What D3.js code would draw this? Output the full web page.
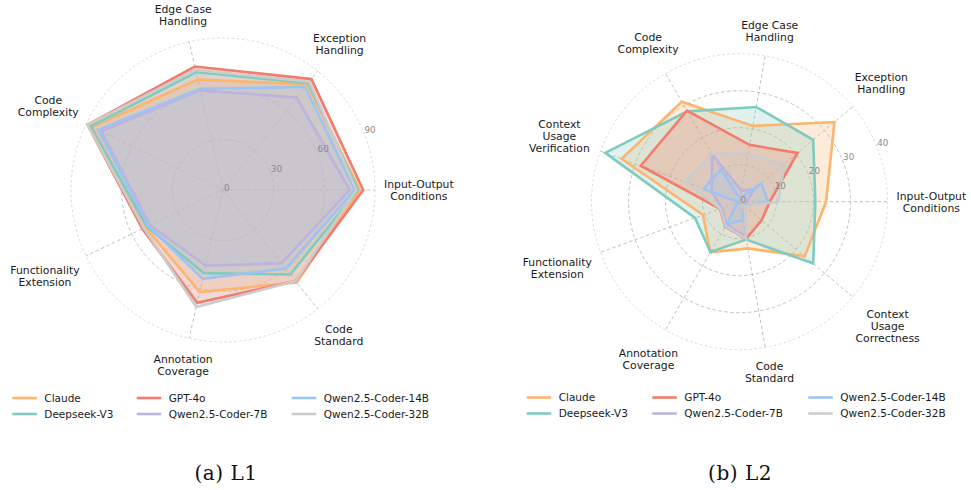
<!DOCTYPE html>
<html>
<head>
<meta charset="utf-8">
<script src="https://cdn.jsdelivr.net/npm/d3@7/dist/d3.min.js"></script>
<style>
  html, body { margin: 0; padding: 0; background: #fff; }
  svg { display: block; font-family: "DejaVu Sans", sans-serif; }
</style>
</head>
<body>
<svg id="chart" width="971" height="490"></svg>
<script>
// ---------- DATA ----------
const models = ["Claude", "Deepseek-V3", "GPT-4o", "Qwen2.5-Coder-7B", "Qwen2.5-Coder-14B", "Qwen2.5-Coder-32B"];
const modelColors = ["#fdb46d", "#80cbc0", "#f47c6c", "#bdb3de", "#9dc3f3", "#cccccc"];

const l1Categories = ["Input-Output\nConditions", "Exception\nHandling", "Edge Case\nHandling", "Code\nComplexity",
  "Functionality\nExtension", "Annotation\nCoverage", "Code\nStandard"];
const l1Ticks = [0, 30, 60, 90];
const l1Claude   = [81, 80, 67, 86, 51, 62, 70];
const l1Deepseek = [80, 81, 71.5, 87, 50, 50.5, 64];
const l1GPT4o    = [83, 84, 75, 89, 53, 68.5, 69];
const l1Qwen7B   = [75, 70, 60.5, 80, 48, 46, 55.5];
const l1Qwen14B  = [78, 78, 61.5, 82, 49, 54, 59.5];
const l1Qwen32B  = [79, 82, 73, 89, 52, 71, 69];

const l2Categories = ["Input-Output\nConditions", "Exception\nHandling", "Edge Case\nHandling", "Code\nComplexity",
  "Context\nUsage\nVerification", "Functionality\nExtension", "Annotation\nCoverage", "Code\nStandard",
  "Context\nUsage\nCorrectness"];
const l2Ticks = [0, 10, 20, 30, 40];
const l2Claude   = [23.4, 33.5, 20.8, 31.2, 33.9, 10.5, 15.8, 12.8, 23];
const l2Deepseek = [20.5, 26, 26, 28.2, 38.6, 12.8, 15.7, 10.4, 26];
const l2GPT4o    = [8.2, 20.5, 15.6, 28.4, 28.4, 5.6, 7.8, 10.2, 7.8];
const l2Qwen7B   = [2, 5.2, 3, 14.8, 8, 5, 7.2, 9.5, 2];
const l2Qwen14B  = [7.7, 7.7, 1, 10, 10.3, 0.5, 7.1, 5, 2];
const l2Qwen32B  = [10.5, 15.8, 13, 15, 15.7, 5.5, 7.6, 10.2, 2];

const captions = ["(a) L1", "(b) L2"];

// ---------- DRAW ----------
const svg = d3.select("#chart");

function drawRadar(opts) {
  const { cx, cy, R, cats, ticks, series } = opts;
  const n = cats.length;
  const maxV = ticks[ticks.length - 1];
  const r = d3.scaleLinear().domain([0, maxV]).range([0, R]);
  const ang = d3.scaleLinear().domain([0, n]).range([0, 2 * Math.PI]);
  const g = svg.append("g").attr("transform", `translate(${cx},${cy})`);
  const pt = (i, v) => [r(v) * Math.cos(ang(i)), -r(v) * Math.sin(ang(i))];

  // rings
  const grid = g.append("g");
  ticks.filter(t => t > 0 && t < maxV).forEach(t => {
    grid.append("circle").attr("r", r(t)).attr("fill", "none")
      .attr("stroke", "#b3b3b3").attr("stroke-width", 0.8).attr("stroke-dasharray", "3.5,2.5");
  });
  // outer spine
  grid.append("circle").attr("r", r(maxV)).attr("fill", "none")
    .attr("stroke", "#d0d0d0").attr("stroke-width", 0.8).attr("stroke-dasharray", "2.5,2.5");
  // spokes
  d3.range(n).forEach(i => {
    const [x, y] = pt(i, maxV);
    grid.append("line").attr("x1", 0).attr("y1", 0).attr("x2", x).attr("y2", y)
      .attr("stroke", "#b3b3b3").attr("stroke-width", 0.8).attr("stroke-dasharray", "3.5,2.5");
  });

  // series
  const line = d3.line().curve(d3.curveLinearClosed);
  series.forEach((vals, k) => {
    const pts = vals.map((v, i) => pt(i, v));
    g.append("path").attr("d", line(pts)).attr("fill", modelColors[k]).attr("fill-opacity", 0.25)
      .attr("stroke", "none");
  });
  series.forEach((vals, k) => {
    const pts = vals.map((v, i) => pt(i, v));
    g.append("path").attr("d", line(pts)).attr("fill", "none")
      .attr("stroke", modelColors[k]).attr("stroke-width", 2.6).attr("stroke-linejoin", "miter");
  });

  // tick labels at 22.5 deg
  const ta = 22.5 * Math.PI / 180;
  ticks.forEach(t => {
    g.append("text").attr("x", r(t) * Math.cos(ta) + 1).attr("y", -r(t) * Math.sin(ta) + 1)
      .attr("font-size", 8.8).attr("fill", "#8a8a8a").text(t);
  });

  // category labels
  const pad = 9, lh = 12;
  cats.forEach((c, i) => {
    const a = ang(i);
    const lines = c.split("\n");
    const t = g.append("text").attr("font-size", 10.8).attr("fill", "#1a1a1a").attr("text-anchor", "middle");
    lines.forEach((s, j) => {
      t.append("tspan").attr("x", 0).attr("y", (j - (lines.length - 1) / 2) * lh + 4).text(s);
    });
    const bb = t.node().getBBox();
    const hw = bb.width / 2, hh = lines.length * lh / 2;
    const dx = Math.cos(a), dy = -Math.sin(a);
    const d = R + pad + hw * Math.abs(dx) + hh * Math.abs(dy);
    t.attr("transform", `translate(${d * dx},${d * dy})`);
  });
}

drawRadar({ cx: 223, cy: 190, R: 152, cats: l1Categories, ticks: l1Ticks,
  series: [l1Claude, l1Deepseek, l1GPT4o, l1Qwen7B, l1Qwen14B, l1Qwen32B] });
drawRadar({ cx: 739.5, cy: 201.7, R: 148, cats: l2Categories, ticks: l2Ticks,
  series: [l2Claude, l2Deepseek, l2GPT4o, l2Qwen7B, l2Qwen14B, l2Qwen32B] });

// legends
function drawLegend(y0, colX) {
  const lg = svg.append("g");
  models.forEach((m, k) => {
    const col = Math.floor(k / 2), row = k % 2;
    const x = colX[col], y = y0 + row * 16;
    lg.append("line").attr("x1", x).attr("x2", x + 24.5).attr("y1", y).attr("y2", y)
      .attr("stroke", modelColors[k]).attr("stroke-width", 2.6);
    lg.append("text").attr("x", x + 32).attr("y", y + 3.8).attr("font-size", 10.5)
      .attr("fill", "#1a1a1a").text(m);
  });
}
drawLegend(398, [12.3, 136.7, 291.7]);
drawLegend(397.5, [526.7, 652.3, 808.3]);

// captions
svg.append("text").attr("x", 226).attr("y", 480).attr("text-anchor", "middle")
  .attr("font-family", "'DejaVu Serif', serif").attr("font-size", 20).attr("letter-spacing", 0.5)
  .attr("fill", "#111").text(captions[0]);
svg.append("text").attr("x", 740).attr("y", 480).attr("text-anchor", "middle")
  .attr("font-family", "'DejaVu Serif', serif").attr("font-size", 20).attr("letter-spacing", 0.5)
  .attr("fill", "#111").text(captions[1]);
</script>
</body>
</html>
